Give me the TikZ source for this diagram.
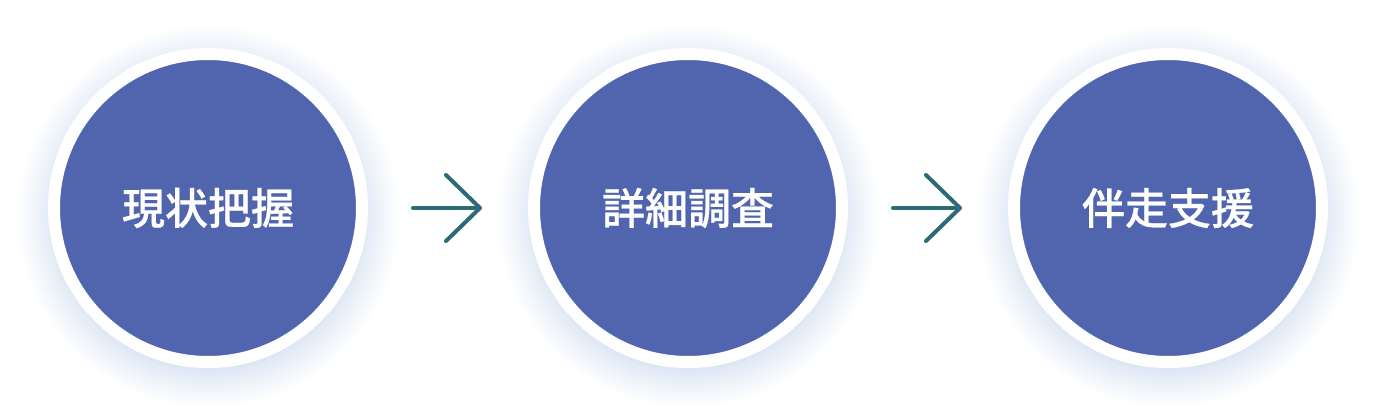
\documentclass[tikz,border=0pt]{standalone}
\usepackage{fontspec}
\newfontfamily\jpfont{Noto Sans CJK JP Medium}[FakeBold=0.6]
\usetikzlibrary{arrows.meta,backgrounds}
\definecolor{stepblue}{HTML}{5065AE}
\definecolor{arrowteal}{HTML}{2B6A78}
\definecolor{haloblue}{HTML}{DDE7F4}
\pgfdeclareradialshading{halo}{\pgfpoint{0bp}{0bp}}{color(0bp)=(haloblue); color(20bp)=(haloblue); color(22bp)=(haloblue!55!white); color(25bp)=(white); color(50bp)=(white)}
\begin{document}
\begin{tikzpicture}[
  x=1pt, y=-1pt,
  stepcircle/.style={circle, fill=stepblue, draw=white, line width=12pt, minimum size=308pt, inner sep=0pt, outer sep=0pt, text=white, font=\jpfont\fontsize{43}{43}\selectfont},
  flow/.style={draw=arrowteal, line width=4pt, line cap=round, shorten <=51pt, shorten >=52pt, -{Straight Barb[length=34pt, width=66pt, round]}},
  node distance=480pt
]
\useasboundingbox (0,0) rectangle (1376,416);
\node[stepcircle] (genjo) at (208,208) {現状把握};
\node[stepcircle, right of=genjo] (shosai) {詳細調査};
\node[stepcircle, right of=shosai] (bansou) {伴走支援};

\begin{scope}[on background layer]
\fill[white] (0,0) rectangle (1376,416);
\foreach \s in {genjo,shosai,bansou}
  \shade[shading=halo] ([yshift=-8pt]\s.center) circle (192);
\end{scope}

\draw[flow] (genjo) -- (shosai);
\draw[flow] (shosai) -- (bansou);
\end{tikzpicture}
\end{document}
